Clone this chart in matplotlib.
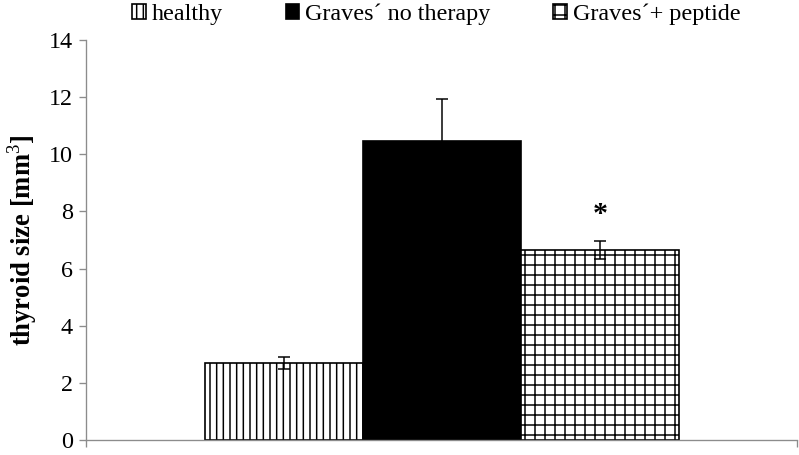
import matplotlib
matplotlib.use('Agg')
from matplotlib import pyplot as plt
from matplotlib.patches import Patch

plt.rcParams['font.family'] = ['Liberation Serif', 'DejaVu Serif']
plt.rcParams['mathtext.fontset'] = 'custom'
plt.rcParams['mathtext.rm'] = 'Liberation Serif'
plt.rcParams['mathtext.bf'] = 'Liberation Serif:bold'
plt.rcParams['hatch.linewidth'] = 0.9

# Data
groups = ['healthy', 'Graves\u00b4 no therapy', 'Graves\u00b4+ peptide']
sizes = [2.7, 10.45, 6.65]
errors = [0.2, 1.5, 0.3]
yticks = [0, 2, 4, 6, 8, 10, 12, 14]

hatches = ['|||', None, '++']
faces = ['white', 'black', 'white']

dpi = 120
fig = plt.figure(figsize=(799 / dpi, 455 / dpi), dpi=dpi)
ax = fig.add_axes([86 / 799, 15 / 455, 711 / 799, 400 / 455])

x = list(range(len(groups)))
for i in x:
    ax.bar(x[i], sizes[i], width=1.0, color=faces[i], edgecolor='black',
           hatch=hatches[i], linewidth=1.0, zorder=2)
ax.errorbar(x, sizes, yerr=errors, fmt='none', ecolor='black', elinewidth=0.9,
            capsize=3.6, capthick=0.9, zorder=3)

# significance mark
ax.text(x[2], 7.9, '*', ha='center', va='center', fontsize=18, fontweight='bold')

ax.set_xlim(-1.253, 3.247)
ax.set_ylim(0, 14)
ax.set_yticks(yticks)
ax.set_xticks([-1.253, 3.247])
ax.set_xticklabels([])
for s in ['top', 'right']:
    ax.spines[s].set_visible(False)
for s in ['left', 'bottom']:
    ax.spines[s].set_color('#8c8c8c')
    ax.spines[s].set_linewidth(0.8)
ax.tick_params(axis='both', colors='#8c8c8c', length=4, width=0.8, labelcolor='black',
               labelsize=14.5, pad=4)
ax.set_ylabel('thyroid size [mm$^{3}$]', fontsize=16, fontweight='bold', labelpad=6)

handles = [Patch(facecolor=faces[i], edgecolor='black', hatch=hatches[i], linewidth=1.0)
           for i in x]
fig.legend(handles, groups, loc='center', bbox_to_anchor=(0.546, 0.969), ncol=3,
           frameon=False, fontsize=14.5, handlelength=0.55, handleheight=0.55,
           handletextpad=0.25, columnspacing=2.6)

fig.savefig('out.png', dpi=dpi)
